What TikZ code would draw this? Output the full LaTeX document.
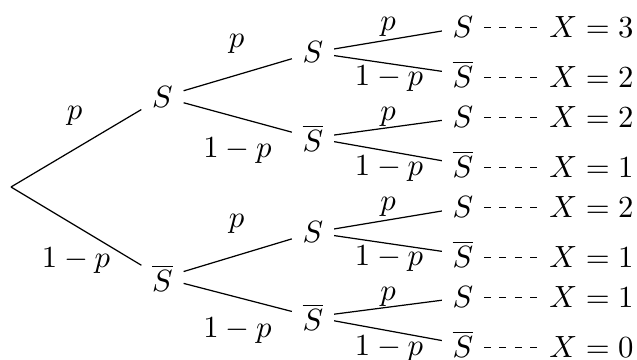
\documentclass[tikz,border=0pt]{standalone}
\begin{document}
\begin{tikzpicture}[x=0.3257pt,y=-0.3257pt,
  st/.style={inner sep=3.33pt, anchor=base},
  lbl/.style={inner sep=0pt, anchor=base},
  res/.style={anchor=base},
  br/.style={line width=0.4pt},
  dsh/.style={line width=0.4pt, dash pattern=on 2.2pt off 2.8pt}]
\useasboundingbox (0,0) rectangle (637,360);
% root
\coordinate (r) at (11,187);
% level 1
\node[st] (a) at (162.5,107.5) {$S$};
\node[st] (b) at (162.5,291.5) {$\overline{S}$};
% level 2
\node[st] (c) at (313,63) {$S$};
\node[st] (d) at (313,151.5) {$\overline{S}$};
\node[st] (e) at (313,243) {$S$};
\node[st] (f) at (313,330.5) {$\overline{S}$};
% level 3
\node[st] (l1) at (463,38) {$S$};
\node[st] (l2) at (463,88) {$\overline{S}$};
\node[st] (l3) at (463,128) {$S$};
\node[st] (l4) at (463,178) {$\overline{S}$};
\node[st] (l5) at (463,218) {$S$};
\node[st] (l6) at (463,268) {$\overline{S}$};
\node[st] (l7) at (463,308) {$S$};
\node[st] (l8) at (463,358) {$\overline{S}$};
% results
\node[res] (x1) at (591.5,0 |- l1.base) {$X=3$};
\node[res] (x2) at (591.5,0 |- l2.base) {$X=2$};
\node[res] (x3) at (591.5,0 |- l3.base) {$X=2$};
\node[res] (x4) at (591.5,0 |- l4.base) {$X=1$};
\node[res] (x5) at (591.5,0 |- l5.base) {$X=2$};
\node[res] (x6) at (591.5,0 |- l6.base) {$X=1$};
\node[res] (x7) at (591.5,0 |- l7.base) {$X=1$};
\node[res] (x8) at (591.5,0 |- l8.base) {$X=0$};
% branches
\draw[br] (r) -- (a);
\draw[br] (r) -- (b);
\draw[br] (a) -- (c);
\draw[br] (a) -- (d);
\draw[br] (b) -- (e);
\draw[br] (b) -- (f);
\draw[br] (c) -- (l1);
\draw[br] (c) -- (l2);
\draw[br] (d) -- (l3);
\draw[br] (d) -- (l4);
\draw[br] (e) -- (l5);
\draw[br] (e) -- (l6);
\draw[br] (f) -- (l7);
\draw[br] (f) -- (l8);
% dashed links
\draw[dsh] (l1.east |- x1.west) -- (x1.west);
\draw[dsh] (l2.east |- x2.west) -- (x2.west);
\draw[dsh] (l3.east |- x3.west) -- (x3.west);
\draw[dsh] (l4.east |- x4.west) -- (x4.west);
\draw[dsh] (l5.east |- x5.west) -- (x5.west);
\draw[dsh] (l6.east |- x6.west) -- (x6.west);
\draw[dsh] (l7.east |- x7.west) -- (x7.west);
\draw[dsh] (l8.east |- x8.west) -- (x8.west);
% labels level 1
\node[lbl] (p0) at (74.5,120) {$p$};
\node[lbl] (q0) at (76,268) {$1-p$};
% labels level 2
\node[lbl] (p1) at (236.5,48) {$p$};
\node[lbl] (q1) at (237.5,158) {$1-p$};
\node[lbl] (p2) at (236.5,228) {$p$};
\node[lbl] (q2) at (237.5,338) {$1-p$};
% labels level 3
\node[lbl] (p3) at (388,30.5) {$p$};
\node[lbl] (q3) at (389,86) {$1-p$};
\node[lbl] (p4) at (388,120.5) {$p$};
\node[lbl] (q4) at (389,176) {$1-p$};
\node[lbl] (p5) at (388,210.5) {$p$};
\node[lbl] (q5) at (389,266) {$1-p$};
\node[lbl] (p6) at (388,300.5) {$p$};
\node[lbl] (q6) at (389,356) {$1-p$};
\end{tikzpicture}
\end{document}
